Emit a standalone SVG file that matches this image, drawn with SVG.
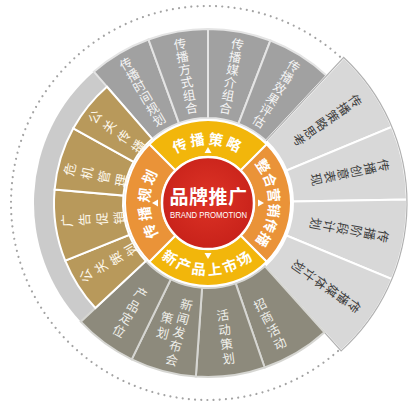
<svg xmlns="http://www.w3.org/2000/svg" width="418" height="402" viewBox="0 0 418 402">
<style>
.lbl{font-family:"Noto Sans CJK SC","Noto Sans CJK TC",sans-serif;font-size:12.5px;text-anchor:middle}
.gold-t{font-size:13px;fill:#fdf7ea}
.gray-t{fill:#f4f4f4}
.light-t{fill:#3e3e3e}
.olive-t{fill:#efefea}
.ring-t{font-family:"Noto Sans CJK SC","Noto Sans CJK TC",sans-serif;font-size:14.5px;font-weight:700;fill:#ffffff;text-anchor:middle}
.seg-gray{fill:#a1a1a1;stroke:#e4e4e4;stroke-width:2}
.seg-light{fill:#d8d8d8;stroke:#ffffff;stroke-width:2}
.seg-olive{fill:#8d8a7c;stroke:#d6d6d2;stroke-width:2}
.seg-gold{fill:#b8995b;stroke:#ffffff;stroke-width:2}
.ring-y{fill:#f2b60b;stroke:#ffffff;stroke-width:2}
.ring-o{fill:#ea9338;stroke:#ffffff;stroke-width:2}
.tri{fill:#ffffff}
</style>
<defs>
<radialGradient id="redg" cx="50%" cy="45%" r="55%">
<stop offset="0" stop-color="#dd3326"/>
<stop offset="1" stop-color="#c8221a"/>
</radialGradient>
<path id="arcTop" d="M 153.03 182.99 A 58.5 58.5 0 0 1 262.97 182.99"/>
<path id="arcRight" d="M 228.86 145.68 A 61 61 0 0 1 228.86 260.32"/>
<path id="arcLeft" d="M 187.99 257.97 A 58.5 58.5 0 0 1 187.99 148.03"/>
<path id="arcBottom" d="M 140.34 227.63 A 72 72 0 0 0 275.66 227.63"/>
</defs>

<circle id="dotted-ring" cx="208" cy="203" r="197" fill="none" stroke="#a3a3a3" stroke-width="2.2" stroke-linecap="round" stroke-dasharray="0.01 6.189"/>

<path id="band" d="M 208 203 L 80.74 321.67 A 174 174 0 0 1 93.84 71.68 Z" fill="#cbcbcb"/>

<g id="seg-t1"><path class="seg-gray" d="M 93.84 71.68 A 174 174 0 0 1 148.49 39.49 L 178.93 123.13 A 85 85 0 0 0 152.23 138.85 Z"/>
<text class="lbl gray-t" transform="translate(142.53 91.85) rotate(-30.5)"><tspan x="0" y="-27.75">传</tspan><tspan x="0" y="-14.75">播</tspan><tspan x="0" y="-1.75">时</tspan><tspan x="0" y="11.25">间</tspan><tspan x="0" y="24.25">规</tspan><tspan x="0" y="37.25">划</tspan></text></g>
<g id="seg-t2"><path class="seg-gray" d="M 148.49 39.49 A 174 174 0 0 1 208 29 L 208 118 A 85 85 0 0 0 178.93 123.13 Z"/>
<text class="lbl gray-t" transform="translate(185.6 75.96) rotate(-10)"><tspan x="0" y="-27.75">传</tspan><tspan x="0" y="-14.75">播</tspan><tspan x="0" y="-1.75">方</tspan><tspan x="0" y="11.25">式</tspan><tspan x="0" y="24.25">组</tspan><tspan x="0" y="37.25">合</tspan></text></g>
<g id="seg-t3"><path class="seg-gray" d="M 208 29 A 174 174 0 0 1 270.36 40.55 L 238.46 123.64 A 85 85 0 0 0 208 118 Z"/>
<text class="lbl gray-t" transform="translate(231.51 76.15) rotate(10.5)"><tspan x="0" y="-27.75">传</tspan><tspan x="0" y="-14.75">播</tspan><tspan x="0" y="-1.75">媒</tspan><tspan x="0" y="11.25">介</tspan><tspan x="0" y="24.25">组</tspan><tspan x="0" y="37.25">合</tspan></text></g>
<g id="seg-t4"><path class="seg-gray" d="M 270.36 40.55 A 174 174 0 0 1 326.67 75.74 L 265.97 140.83 A 85 85 0 0 0 238.46 123.64 Z"/>
<text class="lbl gray-t" transform="translate(276.36 93.6) rotate(32)"><tspan x="0" y="-27.75">传</tspan><tspan x="0" y="-14.75">播</tspan><tspan x="0" y="-1.75">效</tspan><tspan x="0" y="11.25">果</tspan><tspan x="0" y="24.25">评</tspan><tspan x="0" y="37.25">估</tspan></text></g>

<g id="seg-r1"><path class="seg-light" d="M 343.72 57.45 A 199 199 0 0 1 391.86 126.84 L 286.53 170.47 A 85 85 0 0 0 265.97 140.83 Z"/>
<text class="lbl light-t" transform="translate(327.15 120.36) rotate(55.25)"><tspan x="0" y="-29.5">传</tspan><tspan x="0" y="-15.8">播</tspan><tspan x="0" y="-2.1">策</tspan><tspan x="0" y="11.6">略</tspan><tspan x="0" y="25.3">思</tspan><tspan x="0" y="39">考</tspan></text></g>
<g id="seg-r2"><path class="seg-light" d="M 391.86 126.84 A 199 199 0 0 1 406.97 199.53 L 292.99 201.52 A 85 85 0 0 0 286.53 170.47 Z"/>
<text class="lbl light-t" transform="translate(349.96 172.5) rotate(78.25)"><tspan x="0" y="-29.5">传</tspan><tspan x="0" y="-15.8">播</tspan><tspan x="0" y="-2.1">创</tspan><tspan x="0" y="11.6">意</tspan><tspan x="0" y="25.3">表</tspan><tspan x="0" y="39">现</tspan></text></g>
<g id="seg-r3"><path class="seg-light" d="M 406.97 199.53 A 199 199 0 0 1 391.86 279.16 L 286.53 235.53 A 85 85 0 0 0 292.99 201.52 Z"/>
<text class="lbl light-t" transform="translate(349.45 230.04) rotate(100.75)"><tspan x="0" y="-29.5">传</tspan><tspan x="0" y="-15.8">播</tspan><tspan x="0" y="-2.1">阶</tspan><tspan x="0" y="11.6">段</tspan><tspan x="0" y="25.3">计</tspan><tspan x="0" y="39">划</tspan></text></g>
<g id="seg-r4"><path class="seg-light" d="M 391.86 279.16 A 199 199 0 0 1 341.15 350.88 L 264.87 266.16 A 85 85 0 0 0 286.53 235.53 Z"/>
<text class="lbl light-t" transform="translate(326.41 286.68) rotate(125.25)"><tspan x="0" y="-29.5">传</tspan><tspan x="0" y="-15.8">播</tspan><tspan x="0" y="-2.1">媒</tspan><tspan x="0" y="11.6">体</tspan><tspan x="0" y="25.3">计</tspan><tspan x="0" y="39">划</tspan></text></g>
<path id="right-outline" d="M 265.97 140.83 L 343.72 57.45 A 199 199 0 0 1 341.15 350.88 L 264.87 266.16" fill="none" stroke="#b1b1b1" stroke-width="1.2"/>

<g id="seg-b1"><path class="seg-olive" d="M 324.42 332.3 A 174 174 0 0 1 264.65 367.52 L 235.68 283.37 A 85 85 0 0 0 264.87 266.16 Z"/>
<text class="lbl olive-t" transform="translate(270 324) rotate(-27)"><tspan x="0" y="-17">招</tspan><tspan x="0" y="-2.5">商</tspan><tspan x="0" y="12">活</tspan><tspan x="0" y="26.5">动</tspan></text></g>
<g id="seg-b2"><path class="seg-olive" d="M 264.65 367.52 A 174 174 0 0 1 195.86 376.58 L 202.07 287.8 A 85 85 0 0 0 235.68 283.37 Z"/>
<text class="lbl olive-t" transform="translate(225.62 336.84) rotate(-7.5)"><tspan x="0" y="-17">活</tspan><tspan x="0" y="-2.5">动</tspan><tspan x="0" y="12">策</tspan><tspan x="0" y="26.5">划</tspan></text></g>
<g id="seg-b3"><path class="seg-olive" d="M 195.86 376.58 A 174 174 0 0 1 131.72 359.39 L 170.74 279.4 A 85 85 0 0 0 202.07 287.8 Z"/>
<text class="lbl olive-t" transform="translate(171.7 330.3) rotate(15)"><tspan x="7.8" y="-23.75">新</tspan><tspan x="7.8" y="-9.5">闻</tspan><tspan x="7.8" y="4.75">发</tspan><tspan x="7.8" y="19">布</tspan><tspan x="7.8" y="33.25">会</tspan><tspan x="-7.8" y="-6.25">策</tspan><tspan x="-7.8" y="9.75">划</tspan></text></g>
<g id="seg-b4"><path class="seg-olive" d="M 131.72 359.39 A 174 174 0 0 1 80.74 321.67 L 145.83 260.97 A 85 85 0 0 0 170.74 279.4 Z"/>
<text class="lbl olive-t" transform="translate(130 312.3) rotate(30)"><tspan x="0" y="-17">产</tspan><tspan x="0" y="-2.5">品</tspan><tspan x="0" y="12">定</tspan><tspan x="0" y="26.5">位</tspan></text></g>

<g id="seg-g1"><path class="seg-gold" d="M 95.36 308.03 A 154 154 0 0 1 65.21 260.69 L 129.19 234.84 A 85 85 0 0 0 145.83 260.97 Z"/>
<text class="lbl gold-t" transform="translate(108.57 262.74) rotate(-120)"><tspan x="0" y="-21.3">公</tspan><tspan x="0" y="-3.8">关</tspan><tspan x="0" y="13.7">策</tspan><tspan x="0" y="31.2">划</tspan></text></g>
<g id="seg-g2"><path class="seg-gold" d="M 65.21 260.69 A 154 154 0 0 1 54.59 189.57 L 123.32 195.59 A 85 85 0 0 0 129.19 234.84 Z"/>
<text class="lbl gold-t" transform="translate(93.13 219.15) rotate(-93)"><tspan x="0" y="-21.3">广</tspan><tspan x="0" y="-3.8">告</tspan><tspan x="0" y="13.7">促</tspan><tspan x="0" y="31.2">销</tspan></text></g>
<g id="seg-g3"><path class="seg-gold" d="M 54.59 189.57 A 154 154 0 0 1 73.31 128.34 L 133.66 161.79 A 85 85 0 0 0 123.32 195.59 Z"/>
<text class="lbl gold-t" transform="translate(95.45 174.94) rotate(-78)"><tspan x="0" y="-21.3">危</tspan><tspan x="0" y="-3.8">机</tspan><tspan x="0" y="13.7">管</tspan><tspan x="0" y="31.2">理</tspan></text></g>
<g id="seg-g4"><path class="seg-gold" d="M 73.31 128.34 A 154 154 0 0 1 106.96 86.78 L 152.23 138.85 A 85 85 0 0 0 133.66 161.79 Z"/>
<text class="lbl gold-t" transform="translate(116.59 131.58) rotate(-56)"><tspan x="0" y="-21.3">公</tspan><tspan x="0" y="-3.8">关</tspan><tspan x="0" y="13.7">传</tspan><tspan x="0" y="31.2">播</tspan></text></g>

<g id="ring-top"><path class="ring-y" d="M 149.31 144.31 A 83 83 0 0 1 266.69 144.31 L 240.53 170.47 A 46 46 0 0 0 175.47 170.47 Z"/>
<polygon class="tri" points="208,147 204.5,153 211.5,153"/>
<text class="ring-t" letter-spacing="2.5"><textPath href="#arcTop" startOffset="50%">传播策略</textPath></text></g>
<g id="ring-right"><path class="ring-o" d="M 266.69 144.31 A 83 83 0 0 1 266.69 261.69 L 240.53 235.53 A 46 46 0 0 0 240.53 170.47 Z"/>
<polygon class="tri" points="264,203 258,199.5 258,206.5"/>
<text class="ring-t" style="font-size:14px" letter-spacing="0.3"><textPath href="#arcRight" startOffset="50%">整合营销传播</textPath></text></g>
<g id="ring-bottom"><path class="ring-y" d="M 266.69 261.69 A 83 83 0 0 1 149.31 261.69 L 175.47 235.53 A 46 46 0 0 0 240.53 235.53 Z"/>
<polygon class="tri" points="208,259 204.5,253 211.5,253"/>
<text class="ring-t" letter-spacing="2.5"><textPath href="#arcBottom" startOffset="50%">新产品上市场</textPath></text></g>
<g id="ring-left"><path class="ring-o" d="M 149.31 261.69 A 83 83 0 0 1 149.31 144.31 L 175.47 170.47 A 46 46 0 0 0 175.47 235.53 Z"/>
<polygon class="tri" points="152,203 158,199.5 158,206.5"/>
<text class="ring-t" letter-spacing="2.5"><textPath href="#arcLeft" startOffset="50%">传播规划</textPath></text></g>

<g id="center">
<circle cx="208" cy="203" r="46" fill="url(#redg)" stroke="#ffffff" stroke-width="2.5"/>
<text x="208.5" y="204" font-family="'Noto Sans CJK SC','Noto Sans CJK TC',sans-serif" font-size="19" font-weight="700" fill="#ffffff" text-anchor="middle" letter-spacing="0.5">品牌推广</text>
<text x="208.5" y="217.5" font-family="'Liberation Sans',Arial,sans-serif" font-size="8.6" fill="#ffffff" text-anchor="middle" textLength="77" lengthAdjust="spacingAndGlyphs">BRAND PROMOTION</text>
</g>
</svg>
